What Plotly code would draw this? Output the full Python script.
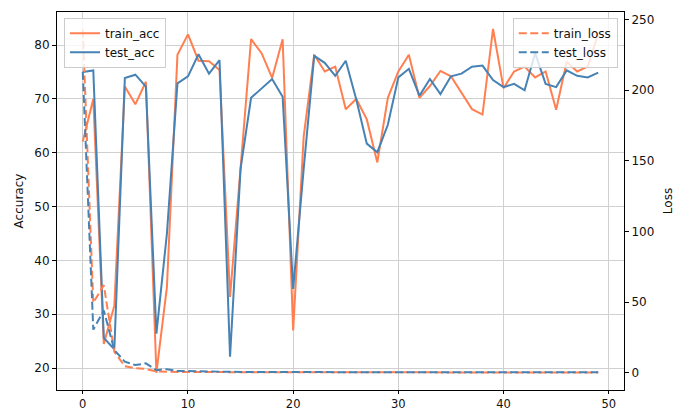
import plotly.graph_objects as go

# Per-epoch training history
epochs = list(range(50))

train_acc = [62.1, 70.0, 24.5, 31.6, 72.3, 69.0, 73.2, 19.1, 35.1, 78.2,
             82.0, 77.1, 77.0, 75.4, 33.2, 57.0, 81.1, 78.5, 73.9, 81.1,
             27.0, 63.0, 78.2, 75.1, 76.0, 68.1, 70.0, 66.2, 58.2, 70.2,
             75.1, 78.2, 70.2, 72.4, 75.2, 74.2, 71.1, 68.1, 67.1, 83.0,
             72.0, 75.1, 76.0, 74.0, 75.1, 68.0, 76.9, 75.1, 76.0, 82.2]

test_acc = [75.0, 75.3, 25.6, 23.5, 73.9, 74.5, 72.3, 26.4, 45.0, 72.9,
            74.2, 78.3, 74.7, 77.2, 22.1, 57.0, 70.2, 72.0, 73.7, 70.4,
            34.7, 57.0, 78.0, 76.7, 74.3, 77.1, 69.9, 61.7, 60.1, 65.2,
            74.0, 75.6, 70.6, 73.7, 70.9, 74.2, 74.7, 76.0, 76.2, 73.5,
            72.2, 72.8, 71.6, 78.5, 72.8, 72.2, 75.3, 74.3, 74.0, 74.9]

train_loss = [243.0, 49.5, 62.0, 14.8, 4.5, 3.2, 2.6, 0.9, 0.6, 0.5,
              0.45, 0.4, 0.38, 0.35, 0.4, 0.33, 0.3, 0.3, 0.28, 0.27,
              0.35, 0.3, 0.26, 0.25, 0.24, 0.23, 0.23, 0.22, 0.22, 0.21,
              0.2, 0.2, 0.19, 0.19, 0.18, 0.18, 0.17, 0.17, 0.17, 0.16,
              0.16, 0.15, 0.15, 0.15, 0.14, 0.14, 0.14, 0.13, 0.13, 0.13]

test_loss = [213.0, 30.5, 44.0, 16.0, 7.8, 5.4, 6.6, 1.8, 2.5, 1.2,
             1.1, 0.9, 0.8, 0.6, 0.7, 0.5, 0.45, 0.42, 0.4, 0.4,
             0.5, 0.4, 0.36, 0.35, 0.34, 0.33, 0.33, 0.32, 0.31, 0.3,
             0.3, 0.29, 0.29, 0.28, 0.28, 0.27, 0.27, 0.26, 0.26, 0.26,
             0.25, 0.25, 0.25, 0.24, 0.24, 0.24, 0.23, 0.23, 0.23, 0.22]

ORANGE = "#FF7F50"
BLUE = "#4682B4"
FONT = "DejaVu Sans"
DASH = "8px,3.5px"

fig = go.Figure()

fig.add_trace(go.Scatter(x=epochs, y=train_acc, name="train_acc", mode="lines",
                         line=dict(color=ORANGE, width=2), legend="legend"))
fig.add_trace(go.Scatter(x=epochs, y=test_acc, name="test_acc", mode="lines",
                         line=dict(color=BLUE, width=2), legend="legend"))
fig.add_trace(go.Scatter(x=epochs, y=train_loss, name="train_loss", mode="lines",
                         line=dict(color=ORANGE, width=2, dash=DASH),
                         yaxis="y2", legend="legend2"))
fig.add_trace(go.Scatter(x=epochs, y=test_loss, name="test_loss", mode="lines",
                         line=dict(color=BLUE, width=2, dash=DASH),
                         yaxis="y2", legend="legend2"))

axis_common = dict(showline=True, linecolor="#000", linewidth=1,
                   ticks="outside", tickcolor="#000",
                   zeroline=False, automargin=False)

legend_common = dict(font=dict(family=FONT, size=12, color="#111"),
                     bgcolor="rgba(255,255,255,0.8)", bordercolor="#cccccc",
                     borderwidth=1, yanchor="top", y=0.985,
                     tracegroupgap=0, itemwidth=30)

fig.update_layout(
    width=683, height=412,
    margin=dict(l=57, r=59, t=12, b=22),
    paper_bgcolor="white", plot_bgcolor="white",
    showlegend=True,
    xaxis=dict(range=[-2.45, 51.45], dtick=10, tick0=0, mirror=True,
               ticklen=3, tickfont=dict(family=FONT, size=11.5, color="#111"),
               showgrid=True, gridcolor="#d0d0d0", gridwidth=1, **axis_common),
    yaxis=dict(range=[15.93, 86.15], dtick=10, tick0=0, mirror=True,
               ticklen=4, tickfont=dict(family=FONT, size=12, color="#111"),
               showgrid=True, gridcolor="#d0d0d0", gridwidth=1,
               title=dict(text="Accuracy", font=dict(family=FONT, size=12, color="#111"),
                          standoff=8),
               **axis_common),
    yaxis2=dict(range=[-12.27, 255.4], tickvals=[0, 50, 100, 150, 200, 250],
                overlaying="y", side="right", showgrid=False,
                ticklen=4, tickfont=dict(family=FONT, size=12, color="#111"),
                title=dict(text="Loss", font=dict(family=FONT, size=12, color="#111"),
                           standoff=10),
                **axis_common),
    legend=dict(x=0.0123, xanchor="left", **legend_common),
    legend2=dict(x=0.989, xanchor="right", **legend_common),
)

fig.write_html("out.html")
